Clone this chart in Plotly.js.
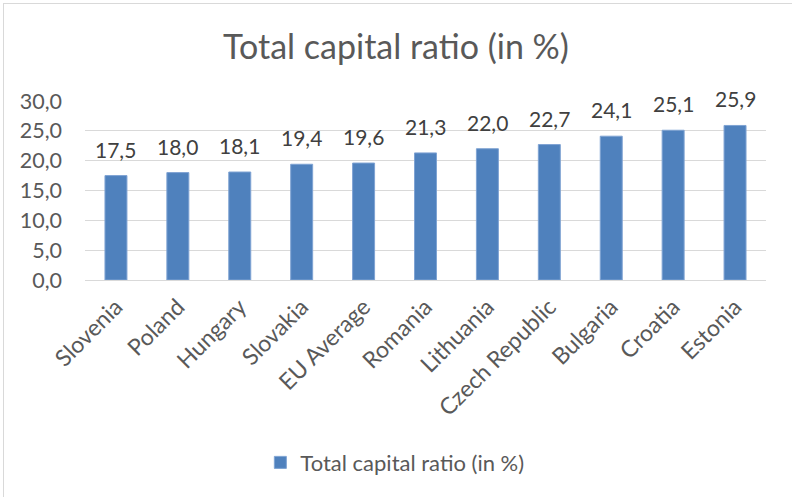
<!DOCTYPE html>
<html>
<head>
<meta charset="utf-8">
<script src="https://cdn.plot.ly/plotly-3.0.1.min.js"></script>
<style>
html,body{margin:0;padding:0;background:#fff;}
#wrap{position:relative;width:792px;height:497px;overflow:hidden;}
#frame{position:absolute;left:3px;top:3px;width:800px;height:500px;border-left:1px solid #d9d9d9;border-top:1px solid #d9d9d9;pointer-events:none;}
#chart{width:792px;height:497px;}
</style>
</head>
<body>
<div id="wrap"><div id="chart"></div><div id="frame"></div></div>
<script>
const categories = ["Slovenia","Poland","Hungary","Slovakia","EU Average","Romania","Lithuania","Czech Republic","Bulgaria","Croatia","Estonia"];
const values = [17.5, 18.0, 18.1, 19.4, 19.6, 21.3, 22.0, 22.7, 24.1, 25.1, 25.9];
const seriesName = "Total capital ratio (in %)";
const yTickVals = [0, 5, 10, 15, 20, 25, 30];
const yTickText = ["0,0","5,0","10,0","15,0","20,0","25,0","30,0"];

const fmt = v => v.toFixed(1).replace(".", ",");
const FONT = "Lato, 'Open Sans', sans-serif";
const GREY = "#595959";

const trace = {
  type: "bar",
  x: categories,
  y: values,
  name: seriesName,
  marker: {color: "#4F81BD", line: {color: "#7FA3D3", width: 1}},
  hoverinfo: "skip"
};

const annotations = categories.map((c, i) => ({
  x: c, y: values[i], xref: "x", yref: "y",
  text: fmt(values[i]), showarrow: false,
  yanchor: "bottom", yshift: 12,
  font: {family: FONT, size: 21, color: "#404040"}
}));

const layout = {
  width: 792, height: 497,
  margin: {l: 85, r: 26, t: 101, b: 217},
  paper_bgcolor: "#fff", plot_bgcolor: "#fff",
  bargap: 0.645,
  title: {text: "Total capital ratio (in %)", x: 0.5, xanchor: "center", xref: "container", y: 0.905, yanchor: "middle",
          font: {family: FONT, size: 34, color: GREY}},
  xaxis: {tickangle: -45, tickfont: {family: FONT, size: 23, color: GREY}, showgrid: false, showline: false, ticks: "",
          ticklabelstandoff: 8, fixedrange: true},
  yaxis: {range: [0, 30], tickvals: yTickVals, ticktext: yTickText, tickfont: {family: FONT, size: 21.5, color: GREY},
          showgrid: true, gridcolor: "#d9d9d9", gridwidth: 1, zeroline: true, zerolinecolor: "#d9d9d9", zerolinewidth: 1,
          showline: false, ticks: "", ticklabelstandoff: 22, fixedrange: true},
  showlegend: true,
  legend: {orientation: "h", x: 0.455, xanchor: "center", y: -1.02, yanchor: "middle",
           itemwidth: 30, font: {family: FONT, size: 22, color: GREY}},
  annotations: annotations
};

Plotly.newPlot("chart", [trace], layout, {displayModeBar: false, staticPlot: true});
</script>
</body>
</html>
